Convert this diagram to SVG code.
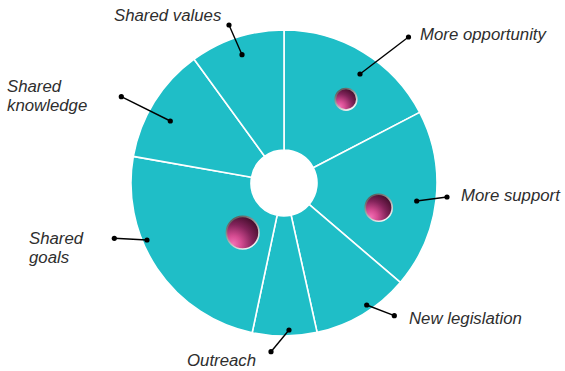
<svg xmlns="http://www.w3.org/2000/svg" width="565" height="371" viewBox="0 0 565 371">
<defs>
<radialGradient id="ball" cx="0.2" cy="0.85" r="1" fx="0.2" fy="0.85">
<stop offset="0" stop-color="#f470b6"/>
<stop offset="0.25" stop-color="#d64c92"/>
<stop offset="0.6" stop-color="#82235a"/>
<stop offset="1" stop-color="#3a0a24"/>
</radialGradient>
<linearGradient id="rim" x1="0.2" y1="0" x2="0.8" y2="1">
<stop offset="0" stop-color="#555555"/>
<stop offset="1" stop-color="#ffffff"/>
</linearGradient>
<style>
.seg{fill:#1fbec7;stroke:#ffffff;stroke-width:1.6;stroke-linejoin:round}
.lbl{font-family:"Liberation Sans",Arial,sans-serif;font-style:italic;font-size:16.8px;fill:#2e2e2e}
.lead{stroke:#000;stroke-width:1.4;fill:none}
.dot{fill:#000}
.ball{fill:url(#ball);stroke:url(#rim);stroke-width:1.6}
</style>
</defs>
<rect width="565" height="371" fill="#ffffff"/>
<g id="seg-more-opportunity">
<path class="seg" d="M284,30 A153,153 0 0 1 419.7,112.4 L313.3,167.8 A33,33 0 0 0 284,150 Z"/>
<circle class="ball" cx="346" cy="99.3" r="10.8"/>
<text class="lbl" x="420" y="40">More opportunity</text>
</g>
<g id="seg-more-support">
<path class="seg" d="M419.7,112.4 A153,153 0 0 1 400.3,282.4 L309.1,204.4 A33,33 0 0 0 313.3,167.8 Z"/>
<circle class="ball" cx="378.7" cy="207.7" r="13.5"/>
<text class="lbl" x="461" y="201">More support</text>
</g>
<g id="seg-new-legislation">
<path class="seg" d="M400.3,282.4 A153,153 0 0 1 317.1,332.4 L291.1,215.2 A33,33 0 0 0 309.1,204.4 Z"/>
<text class="lbl" x="409" y="324">New legislation</text>
</g>
<g id="seg-outreach">
<path class="seg" d="M317.1,332.4 A153,153 0 0 1 252.2,332.7 L277.1,215.3 A33,33 0 0 0 291.1,215.2 Z"/>
<text class="lbl" x="187" y="366">Outreach</text>
</g>
<g id="seg-shared-goals">
<path class="seg" d="M252.2,332.7 A153,153 0 0 1 133.3,156.4 L251.5,177.3 A33,33 0 0 0 277.1,215.3 Z"/>
<circle class="ball" cx="242.7" cy="232.7" r="16.3"/>
<text class="lbl" x="29" y="244">Shared<tspan x="29" dy="19">goals</tspan></text>
</g>
<g id="seg-shared-knowledge">
<path class="seg" d="M133.3,156.4 A153,153 0 0 1 194.1,59.2 L264.6,156.3 A33,33 0 0 0 251.5,177.3 Z"/>
<text class="lbl" x="7" y="92">Shared<tspan x="7" dy="19">knowledge</tspan></text>
</g>
<g id="seg-shared-values">
<path class="seg" d="M194.1,59.2 A153,153 0 0 1 284,30 L284,150 A33,33 0 0 0 264.6,156.3 Z"/>
<text class="lbl" x="114" y="21">Shared values</text>
</g>
<g id="connectors">
<line class="lead" x1="229" y1="25" x2="242" y2="54.7"/>
<circle class="dot" cx="229" cy="25" r="2.6"/><circle class="dot" cx="242" cy="54.7" r="2.6"/>
<line class="lead" x1="360" y1="74" x2="408.5" y2="37"/>
<circle class="dot" cx="360" cy="74" r="2.6"/><circle class="dot" cx="408.5" cy="37" r="2.6"/>
<line class="lead" x1="416.7" y1="201" x2="447" y2="197"/>
<circle class="dot" cx="416.7" cy="201" r="2.6"/><circle class="dot" cx="447" cy="197" r="2.6"/>
<line class="lead" x1="366.7" y1="305" x2="394.3" y2="315.7"/>
<circle class="dot" cx="366.7" cy="305" r="2.6"/><circle class="dot" cx="394.3" cy="315.7" r="2.6"/>
<line class="lead" x1="289" y1="330" x2="271" y2="351.7"/>
<circle class="dot" cx="289" cy="330" r="2.6"/><circle class="dot" cx="271" cy="351.7" r="2.6"/>
<line class="lead" x1="114.3" y1="238.3" x2="147" y2="240"/>
<circle class="dot" cx="114.3" cy="238.3" r="2.6"/><circle class="dot" cx="147" cy="240" r="2.6"/>
<line class="lead" x1="121.3" y1="96.7" x2="170.3" y2="121"/>
<circle class="dot" cx="121.3" cy="96.7" r="2.6"/><circle class="dot" cx="170.3" cy="121" r="2.6"/>
</g>
</svg>
